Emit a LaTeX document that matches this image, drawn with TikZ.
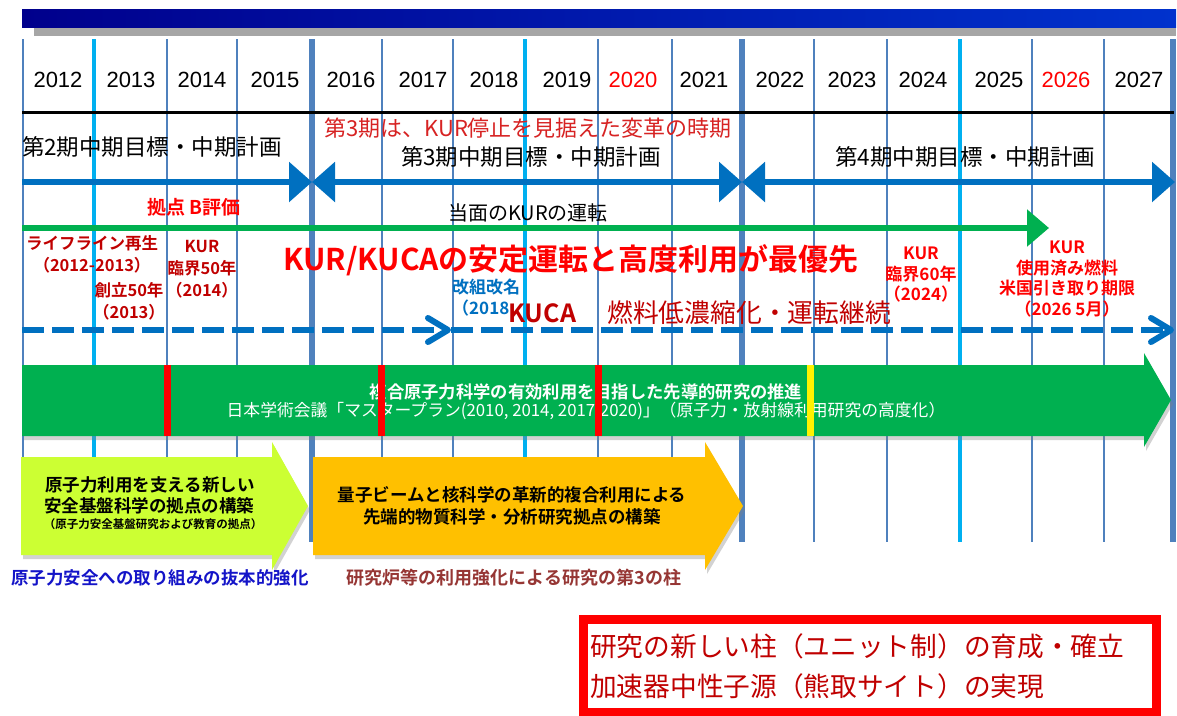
\documentclass[tikz,border=0pt]{standalone}
\usepackage{fontspec}
\setmainfont{Noto Sans CJK JP}[BoldFont={Noto Sans CJK JP Bold}]
\newfontfamily\arialfont{Liberation Sans}
\usetikzlibrary{arrows.meta,shadows}
\definecolor{navybar}{RGB}{0,0,140}
\definecolor{bluebar}{RGB}{0,50,205}
\definecolor{gridblue}{RGB}{79,129,189}
\definecolor{gridcyan}{RGB}{0,176,240}
\definecolor{periodblue}{RGB}{0,112,192}
\definecolor{accentgreen}{RGB}{0,176,80}
\definecolor{darkred}{RGB}{192,0,0}
\definecolor{softred}{RGB}{215,35,35}
\definecolor{limegreen}{RGB}{204,255,51}
\definecolor{amber}{RGB}{255,192,0}
\definecolor{brownred}{RGB}{150,54,52}
\definecolor{capblue}{RGB}{20,20,200}

\begin{document}
\begin{tikzpicture}[x=1pt, y=-1pt,
        thinline/.style={draw=gridblue, line width=1.5pt},
        cyanline/.style={draw=gridcyan, line width=4.5pt},
        thickline/.style={draw=gridblue, line width=6.5pt},
        lbl/.style={inner sep=0pt, align=center},
        yearlbl/.style={lbl, font=\arialfont\fontsize{22}{26}\selectfont},
        periodlbl/.style={lbl, font=\fontsize{22.5}{27}\selectfont},
        milestone/.style={lbl, text=darkred, font=\bfseries\fontsize{16.5}{22}\selectfont},
        milestonered/.style={lbl, text=red, font=\bfseries\fontsize{17}{20.5}\selectfont},
        periodarrow/.style={draw=periodblue, line width=6pt, >={Triangle[length=23pt,width=39pt]}},
        runarrow/.style={draw=accentgreen, line width=6pt, >={Triangle[length=22pt,width=36pt]}},
        kucaarrow/.style={draw=periodblue, line width=6pt, dash pattern=on 22pt off 8pt, >={Straight Barb[length=20pt,width=24pt,round]}},
        bigarrow/.style={drop shadow={shadow xshift=2pt, shadow yshift=-4pt, opacity=0.35}},
        boxtext/.style={lbl, font=\bfseries\fontsize{17.5}{22}\selectfont}]
            \useasboundingbox (0,0) rectangle (1177,715);
            \fill[white] (0,0) rectangle (1177,715);

            % Barra superior
            \fill[black!35] (34,27) rectangle (1176,36);
            \shade[left color=navybar, right color=bluebar] (22,9) rectangle (1176,27);

            % Rejilla de años
            \foreach \x/\s in {23/thinline, 94/cyanline, 167/thinline, 237/thinline, 312/thickline, 382/thinline, 453/thinline, 525/cyanline, 598/thinline, 672/thinline, 742/thickline, 814/thinline, 887/thinline, 960/cyanline, 1032/thinline, 1104/thinline, 1173/thickline} {
                \draw[\s] (\x,39) -- (\x,542);
            }
            \draw[line width=3pt] (22,112) -- (1174,112);
            \foreach \x/\yr/\c in {58/2012/black, 131/2013/black, 202/2014/black, 275/2015/black, 351/2016/black, 423/2017/black, 494/2018/black, 567/2019/black, 633/2020/red, 704/2021/black, 780/2022/black, 852/2023/black, 923/2024/black, 999/2025/black, 1066/2026/red, 1139/2027/black} {
                \node[yearlbl, text=\c] (y\yr) at (\x,80) {\yr};
            }

            % Periodos
            \node[periodlbl] (p2) at (152,147) {第2期中期目標・中期計画};
            \node[lbl, text=softred, font=\fontsize{22}{26}\selectfont] (p3note) at (528,128) {第3期は、KUR停止を見据えた変革の時期};
            \node[periodlbl] (p3) at (531,157) {第3期中期目標・中期計画};
            \node[periodlbl] (p4) at (965,157) {第4期中期目標・中期計画};
            \coordinate (a0) at (22,182);
            \coordinate (a1) at (312,182);
            \coordinate (a2) at (742,182);
            \coordinate (a3) at (1175,182);
            \draw[periodarrow, ->] (a0) -- (a1);
            \draw[periodarrow, <->] (a1) -- (a2);
            \draw[periodarrow, <->] (a2) -- (a3);

            % Operación KUR
            \node[lbl, text=red, font=\bfseries\fontsize{19}{22}\selectfont] (eval) at (194,207) {拠点 B評価};
            \node[lbl, font=\fontsize{20}{24}\selectfont] (kurrun) at (528,213) {当面のKURの運転};
            \coordinate (g0) at (22,228);
            \coordinate (g1) at (1049,228);
            \draw[runarrow, ->] (g0) -- (g1);

            % Hitos
            \node[milestone] (life) at (92,254) {ライフライン再生\\（2012-2013）};
            \node[milestone] (found) at (129,301) {創立50年\\（2013）};
            \node[milestone] (kur50) at (202,269) {KUR\\臨界50年\\（2014）};
            \node[milestonered] (kur60) at (921,275) {KUR\\臨界60年\\（2024）};
            \node[milestonered] (spent) at (1067,279) {KUR\\使用済み燃料\\米国引き取り期限\\（2026 5月）};
            \node[lbl, text=red, font=\bfseries\fontsize{30}{34}\selectfont] (prio) at (571,260) {KUR/KUCAの安定運転と高度利用が最優先};
            \node[lbl, align=left, anchor=west, text=periodblue, font=\bfseries\fontsize{17}{21}\selectfont] (reorg) at (452,298) {改組改名\\（2018};

            % KUCA
            \node[lbl, anchor=west, text=darkred, font=\bfseries\fontsize{25}{29}\selectfont] (kuca) at (508,313) {KUCA};
            \node[lbl, anchor=west, text=darkred, font=\fontsize{25.8}{29}\selectfont] (kucafuel) at (607,313) {燃料低濃縮化・運転継続};
            \coordinate (d0) at (22,330);
            \coordinate (d1) at (451,330);
            \coordinate (d2) at (1174,330);
            \draw[kucaarrow, ->] (d0) -- (d1);
            \draw[kucaarrow, ->] (d1) -- (d2);

            % Flecha de investigación
            \fill[accentgreen, bigarrow] (22,365) -- (1144,365) -- (1144,353) -- (1171,400) -- (1144,447) -- (1144,436) -- (22,436) -- cycle;
            \node[lbl, text=white, font=\bfseries\fontsize{17.3}{20}\selectfont] (lead) at (586,392) {複合原子力科学の有効利用を目指した先導的研究の推進};
            \node[lbl, text=white, font=\fontsize{16.8}{20}\selectfont] (plan) at (586,411) {日本学術会議「マスタープラン(2010, 2014, 2017,2020)」（原子力・放射線利用研究の高度化）};
            \foreach \x/\c in {167/red, 381/red, 598/red, 810/yellow} {
                \fill[\c] (\x-3.5,365) rectangle (\x+3.5,436);
            }

            % Pilares
            \fill[limegreen, bigarrow] (21,457) -- (272,457) -- (272,442) -- (308,506) -- (272,570) -- (272,555) -- (21,555) -- cycle;
            \node[boxtext] (safeA) at (150,485) {原子力利用を支える新しい};
            \node[boxtext] (safeB) at (149,506) {安全基盤科学の拠点の構築};
            \node[lbl, font=\bfseries\fontsize{11.5}{14}\selectfont] (safeC) at (153,524) {（原子力安全基盤研究および教育の拠点）};
            \node[lbl, text=capblue, font=\bfseries\fontsize{17.5}{21}\selectfont] (safecap) at (160,578) {原子力安全への取り組みの抜本的強化};

            \fill[amber, bigarrow] (313,457) -- (705,457) -- (705,442) -- (743,506) -- (705,570) -- (705,555) -- (313,555) -- cycle;
            \node[boxtext] (beamA) at (512,495) {量子ビームと核科学の革新的複合利用による};
            \node[boxtext] (beamB) at (512,517) {先端的物質科学・分析研究拠点の構築};
            \node[lbl, text=brownred, font=\bfseries\fontsize{18}{21}\selectfont] (beamcap) at (514,578) {研究炉等の利用強化による研究の第3の柱};

            % Nuevo pilar
            \node[draw=red, line width=9pt, minimum width=573pt, minimum height=93pt, inner sep=0pt, anchor=north west] (unitbox) at (578.5,614.5) {};
            \node[lbl, anchor=west, text=darkred, font=\fontsize{26.7}{30}\selectfont] (unitA) at (590,646) {研究の新しい柱（ユニット制）の育成・確立};
            \node[lbl, anchor=west, text=darkred, font=\fontsize{26.7}{30}\selectfont] (unitB) at (590,686) {加速器中性子源（熊取サイト）の実現};
\end{tikzpicture}
\end{document}
